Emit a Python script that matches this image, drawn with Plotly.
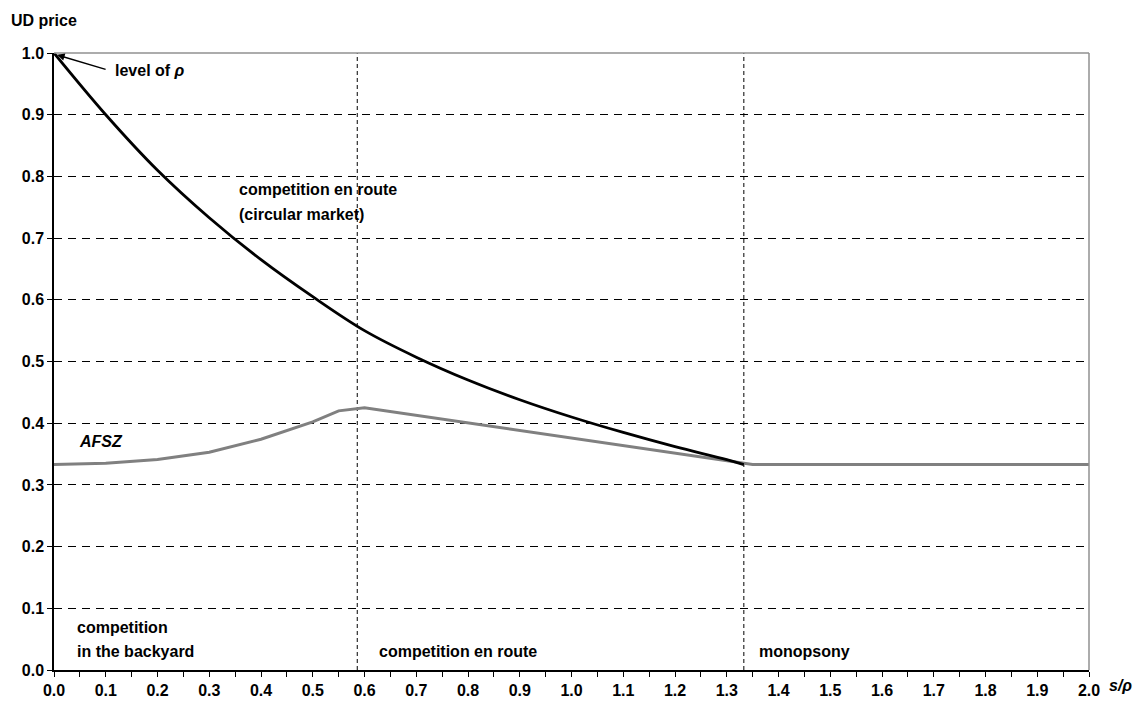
import plotly.graph_objects as go

# Competition en route on a circular market (black curve)
route_x = [0.0, 0.1, 0.2, 0.3, 0.4, 0.5, 0.6, 0.7, 0.8, 0.9, 1.0, 1.1, 1.2, 1.3, 1.333]
route_y = [1.000, 0.900, 0.810, 0.733, 0.665, 0.605, 0.550, 0.507, 0.470, 0.438, 0.410, 0.385, 0.362, 0.341, 0.333]

# AFSZ price path (grey curve)
afsz_x = [0.0, 0.1, 0.2, 0.3, 0.4, 0.5, 0.55, 0.6, 1.35, 2.0]
afsz_y = [0.333, 0.335, 0.341, 0.353, 0.374, 0.402, 0.420, 0.425, 0.333, 0.333]

# Regime boundaries on the s/rho axis
regime_bounds = [0.586, 1.333]

FONT = "Liberation Sans, Arial, sans-serif"

fig = go.Figure()
fig.add_trace(go.Scatter(x=afsz_x, y=afsz_y, mode="lines",
                         line=dict(color="#808080", width=3), hoverinfo="skip"))
fig.add_trace(go.Scatter(x=route_x, y=route_y, mode="lines", line_shape="spline",
                         line=dict(color="#000000", width=2.8), hoverinfo="skip"))

for xb in regime_bounds:
    fig.add_shape(type="line", x0=xb, x1=xb, y0=0, y1=1, xref="x", yref="y",
                  line=dict(color="#000000", width=1, dash="4px,3px"), layer="below")

# plot frame: grey top and right edges
fig.add_shape(type="line", x0=0, x1=1, y0=1, y1=1, xref="paper", yref="paper",
              line=dict(color="#909090", width=1.5))
fig.add_shape(type="line", x0=1, x1=1, y0=0, y1=1, xref="paper", yref="paper",
              line=dict(color="#909090", width=1.5))

tick_font = dict(family=FONT, size=16, color="#000000", weight="bold")
af = dict(family=FONT, size=16, color="#000000")

fig.update_layout(
    width=1148, height=711,
    margin=dict(l=54, r=59, t=53, b=36),
    paper_bgcolor="white", plot_bgcolor="white",
    showlegend=False,
    font=dict(family=FONT, size=16, color="#000000"),
    xaxis=dict(range=[0, 2], dtick=0.1, tickformat=".1f", showgrid=False,
               showline=True, linecolor="#000000", linewidth=1.5,
               ticks="outside", ticklen=5, tickcolor="#000000", zeroline=False,
               tickfont=tick_font,
               minor=dict(dtick=0.05, ticks="outside", ticklen=5, tickcolor="#000000")),
    yaxis=dict(range=[0, 1], dtick=0.1, tickformat=".1f", showgrid=True,
               gridcolor="#000000", gridwidth=1, griddash="8px,6px",
               showline=True, linecolor="#000000", linewidth=1.5,
               ticks="outside", ticklen=5, tickcolor="#000000", zeroline=False,
               tickfont=tick_font),
)

def label(text, x, y, xanchor="left", yanchor="middle", xref="x", yref="y"):
    fig.add_annotation(text=f"<b>{text}</b>", x=x, y=y, xref=xref, yref=yref,
                       xanchor=xanchor, yanchor=yanchor, showarrow=False,
                       font=af, align="left")

label("UD price", -0.043, 1.053, xref="paper", yref="paper")
label("level of <i>ρ</i>", 0.114, 0.972)
label("competition en route", 0.354, 0.778)
label("(circular market)", 0.354, 0.738)
label("<i>AFSZ</i>", 0.044, 0.37)
label("competition", 0.04, 0.069)
label("in the backyard", 0.04, 0.030)
label("competition en route", 0.625, 0.030)
label("monopsony", 1.358, 0.030)
label("<i>s/ρ</i>", 1.030, -0.025, xanchor="center", xref="paper", yref="paper")

# arrow pointing at the level of rho
fig.add_annotation(x=0.006, y=0.997, xref="x", yref="y", text="", showarrow=True,
                   ax=50, ay=15, arrowhead=2, arrowsize=1, arrowwidth=1.5,
                   arrowcolor="#000000")

fig.write_html("out.html")
